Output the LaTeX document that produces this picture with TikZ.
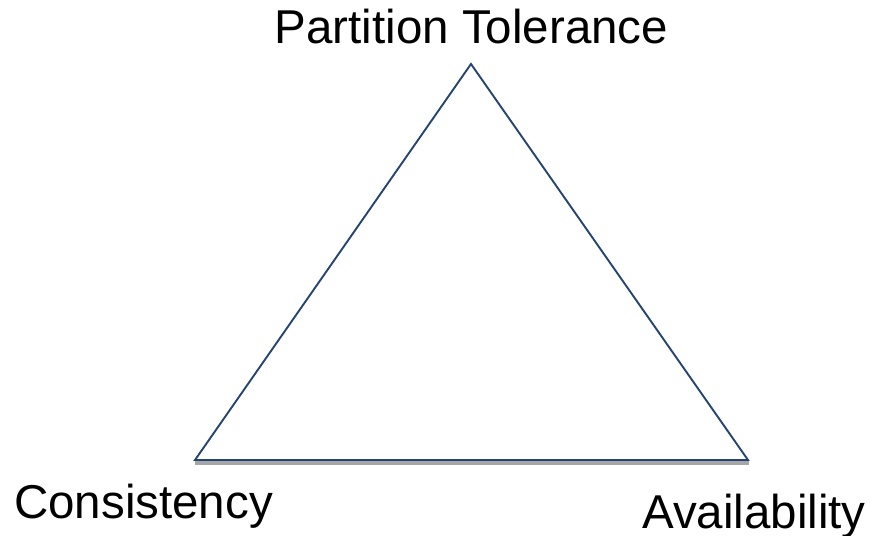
\documentclass[tikz,border=0pt]{standalone}
\usepackage{fontspec}
\setmainfont{Liberation Sans}
\usepackage{tikz}
\usetikzlibrary{positioning}

\definecolor{edgeblue}{RGB}{38,68,115}
\definecolor{shadowgray}{RGB}{166,166,166}

\begin{document}
\begin{tikzpicture}[
  x=1pt, y=-1pt,
  every node/.style = {font=\fontsize{47.5}{56}\selectfont, inner sep=0pt},
  vlabel/.style = {anchor=base},
  edge/.style   = {draw=edgeblue, line width=1.9pt, line join=miter},
  shadow/.style = {draw=shadowgray, line width=4pt},
]
\useasboundingbox (0,0) rectangle (871,536);

%% ── Corners of the triangle ───────────────────────────────────────────────
\coordinate (ptop)  at (471, 64);
\coordinate (cons)  at (195, 460);
\coordinate (avail) at (748, 460);

%% ── Labels ────────────────────────────────────────────────────────────────
\node[vlabel] at (471.5, 43.5) (ptlabel)    {Partition Tolerance};
\node[vlabel] at (143.5, 518)  (conslabel)  {Consistency};
\node[vlabel] at (754, 528)    (availlabel) {Availability};

%% ── Shadow under the base ─────────────────────────────────────────────────
\draw[shadow] ([yshift=-3pt]cons) -- ([xshift=1pt, yshift=-3pt]avail);

%% ── Edges ─────────────────────────────────────────────────────────────────
\draw[edge] (cons) -- (ptop) -- (avail) -- cycle;

\end{tikzpicture}
\end{document}
